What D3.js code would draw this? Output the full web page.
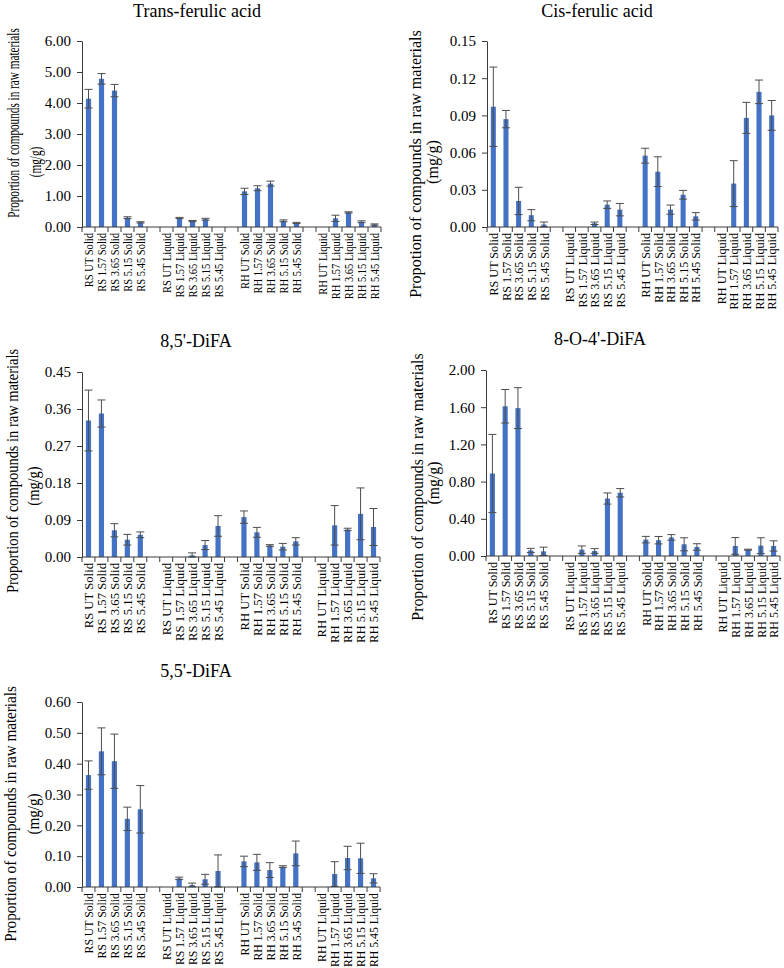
<!DOCTYPE html>
<html>
<head>
<meta charset="utf-8">
<script src="https://cdn.jsdelivr.net/npm/d3@7"></script>
<style>
body{margin:0;background:#fff;}
svg{display:block;}
text{font-family:"Liberation Serif","Times New Roman",serif;fill:#000;}
</style>
</head>
<body>
<svg width="784" height="968"></svg>
<script>
// categories (gap slot inserted after every 5)
var categories = ["RS UT Solid","RS 1.57 Solid","RS 3.65 Solid","RS 5.15 Solid","RS 5.45 Solid",
  "RS UT Liquid","RS 1.57 Liquid","RS 3.65 Liquid","RS 5.15 Liquid","RS 5.45 Liquid",
  "RH UT Solid","RH 1.57 Solid","RH 3.65 Solid","RH 5.15 Solid","RH 5.45 Solid",
  "RH UT Liquid","RH 1.57 Liquid","RH 3.65 Liquid","RH 5.15 Liquid","RH 5.45 Liquid"];

var titles = ["Trans-ferulic acid","Cis-ferulic acid","8,5'-DiFA","8-O-4'-DiFA","5,5'-DiFA"];
var yLabels = ["Proportion of compounds in raw materials","Propotion of compounds in raw materials",
  "Proportion of compounds in raw materials","Proportion of compounds in raw materials",
  "Proportion of compounds in raw materials"];
var yMax = [6, 0.15, 0.45, 2, 0.6];
var yStep = [1, 0.03, 0.09, 0.4, 0.1];

var transVals = [4.14,4.78,4.40,0.30,0.15, 0,0.29,0.19,0.25,0, 1.15,1.25,1.40,0.20,0.13, 0,0.28,0.47,0.17,0.08];
var transErr  = [0.30,0.17,0.20,0.03,0.02, 0,0.02,0.02,0.03,0, 0.10,0.08,0.08,0.03,0.02, 0,0.10,0.02,0.03,0.02];

var cisVals = [0.097,0.087,0.021,0.0095,0.002, 0,0,0.003,0.018,0.014, 0.0575,0.0446,0.014,0.026,0.0086, 0,0.035,0.088,0.109,0.090];
var cisErr  = [0.032,0.007,0.011,0.0045,0.002, 0,0,0.001,0.003,0.005, 0.006,0.012,0.0037,0.0035,0.003, 0,0.0185,0.0125,0.0095,0.012];

var d85Vals = [0.332,0.349,0.065,0.042,0.054, 0,0,0.004,0.029,0.0755, 0.097,0.060,0.028,0.025,0.038, 0,0.077,0.067,0.105,0.073];
var d85Err  = [0.074,0.033,0.016,0.013,0.007, 0,0,0.006,0.011,0.025, 0.015,0.012,0.002,0.008,0.009, 0,0.048,0.003,0.063,0.045];

var d8o4Vals = [0.887,1.61,1.59,0.06,0.05, 0,0.068,0.054,0.618,0.68, 0.176,0.17,0.20,0.126,0.097, 0,0.108,0.068,0.111,0.108];
var d8o4Err  = [0.42,0.18,0.22,0.022,0.045, 0,0.04,0.025,0.06,0.045, 0.035,0.04,0.03,0.07,0.035, 0,0.09,0.005,0.085,0.055];

var d55Vals = [0.363,0.44,0.408,0.221,0.252, 0,0.028,0.0065,0.025,0.052, 0.083,0.08,0.055,0.066,0.109, 0,0.042,0.094,0.093,0.028];
var d55Err  = [0.046,0.076,0.088,0.038,0.077, 0,0.004,0.006,0.016,0.052, 0.017,0.026,0.024,0.003,0.04, 0,0.04,0.038,0.049,0.015];

var allVals = [transVals,cisVals,d85Vals,d8o4Vals,d55Vals];
var allErr = [transErr,cisErr,d85Err,d8o4Err,d55Err];

// panel placement; text is squeezed vertically like the source images
var layout = [
  {x0:82,x1:381,top:41,bot:227,tx:197,ty:17,l1:[13,123],l2:[35,162],lsy:0.66,xsy:0.78},
  {x0:487,x1:778,top:41,bot:227,tx:597,ty:17,l1:[415,164],l2:[432,162],lsy:0.95,xsy:0.9},
  {x0:82,x1:380,top:372,bot:557,tx:196,ty:347,l1:[12,471],l2:[33,486],lsy:0.85,xsy:0.94},
  {x0:486,x1:780,top:370,bot:556,tx:600,ty:345,l1:[417,487],l2:[433,483],lsy:0.93,xsy:0.89},
  {x0:82,x1:380,top:702,bot:887,tx:196,ty:677,l1:[10,814],l2:[33,814],lsy:0.89,xsy:0.87}
];

var slots=[];
categories.forEach(function(c,i){
  if(i>0 && i%5==0) slots.push("gap"+i);
  slots.push(c);
});

var svg=d3.select("svg");
var barColor="#4472C4", errColor="#4d4d4d", axisColor="#3a3a3a";

layout.forEach(function(L,p){
  var g=svg.append("g");
  var x=d3.scaleBand().domain(slots).range([L.x0,L.x1]).paddingInner(0).paddingOuter(0);
  var y=d3.scaleLinear().domain([0,yMax[p]]).range([L.bot,L.top]);
  var bw=x.bandwidth()*0.4;

  g.append("text").attr("x",L.tx).attr("y",L.ty).attr("text-anchor","middle")
    .style("font-size","18px").text(titles[p]);

  // y axis title, two lines
  g.append("text").attr("transform","translate("+L.l1[0]+","+L.l1[1]+") scale(1,"+L.lsy+") rotate(-90)")
    .attr("text-anchor","middle").attr("dy","0.35em").style("font-size","17px").text(yLabels[p]);
  g.append("text").attr("transform","translate("+L.l2[0]+","+L.l2[1]+") scale(1,"+L.lsy+") rotate(-90)")
    .attr("text-anchor","middle").attr("dy","0.35em").style("font-size","17px").text("(mg/g)");

  // y axis
  var ticks=d3.range(0,yMax[p]+yStep[p]/2,yStep[p]);
  var yAxis=d3.axisLeft(y).tickValues(ticks).tickFormat(d3.format(".2f")).tickSizeInner(5).tickSizeOuter(0).tickPadding(6);
  var ya=g.append("g").attr("transform","translate("+L.x0+",0)").call(yAxis);
  ya.select(".domain").attr("stroke",axisColor);
  ya.selectAll(".tick line").attr("stroke",axisColor);
  ya.selectAll(".tick text").style("font-size","15px").style("font-family","'Liberation Serif',serif").attr("fill","#000");

  // bars
  var data=categories.map(function(c,i){return {c:c,v:allVals[p][i],e:allErr[p][i]};});
  g.selectAll("rect.bar").data(data).enter().append("rect").attr("class","bar")
    .attr("x",function(d){return x(d.c)+x.bandwidth()/2-bw/2;})
    .attr("width",bw)
    .attr("y",function(d){return y(d.v);})
    .attr("height",function(d){return y(0)-y(d.v);})
    .attr("fill",barColor);

  // error bars
  var eb=g.selectAll("g.err").data(data.filter(function(d){return d.v>0;})).enter().append("g").attr("class","err")
    .attr("stroke",errColor).attr("stroke-width",1);
  eb.append("line")
    .attr("x1",function(d){return x(d.c)+x.bandwidth()/2;}).attr("x2",function(d){return x(d.c)+x.bandwidth()/2;})
    .attr("y1",function(d){return y(Math.max(0,d.v-d.e));}).attr("y2",function(d){return y(d.v+d.e);});
  eb.append("line")
    .attr("x1",function(d){return x(d.c)+x.bandwidth()/2-4;}).attr("x2",function(d){return x(d.c)+x.bandwidth()/2+4;})
    .attr("y1",function(d){return y(d.v+d.e);}).attr("y2",function(d){return y(d.v+d.e);});
  eb.append("line")
    .attr("x1",function(d){return x(d.c)+x.bandwidth()/2-4;}).attr("x2",function(d){return x(d.c)+x.bandwidth()/2+4;})
    .attr("y1",function(d){return y(Math.max(0,d.v-d.e));}).attr("y2",function(d){return y(Math.max(0,d.v-d.e));});

  // x axis with ticks between categories
  g.append("line").attr("x1",L.x0).attr("x2",L.x1).attr("y1",L.bot).attr("y2",L.bot).attr("stroke",axisColor);
  d3.range(slots.length+1).forEach(function(i){
    var xx=L.x0+i*x.step();
    g.append("line").attr("x1",xx).attr("x2",xx).attr("y1",L.bot).attr("y2",L.bot+5).attr("stroke",axisColor);
  });
  g.selectAll("text.cat").data(categories).enter().append("text").attr("class","cat")
    .attr("transform",function(d){return "translate("+(x(d)+x.bandwidth()/2)+","+(L.bot+6)+") scale(1,"+L.xsy+") rotate(-90)";})
    .attr("text-anchor","end").attr("dy","0.35em").style("font-size","13.5px").text(function(d){return d;});
});
</script>
</body>
</html>
